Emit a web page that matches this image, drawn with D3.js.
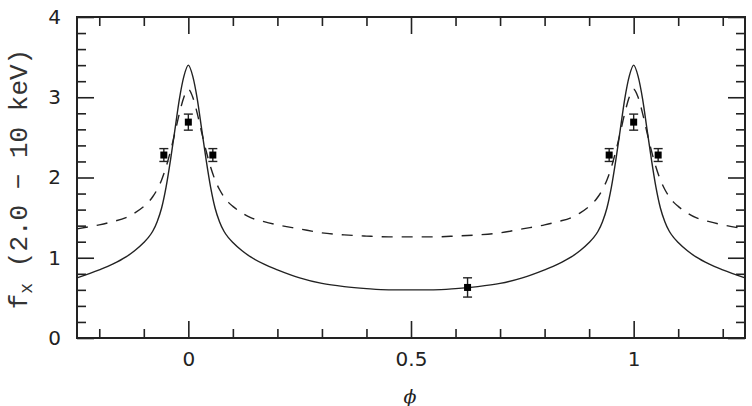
<!DOCTYPE html>
<html>
<head>
<meta charset="utf-8">
<script src="https://cdn.jsdelivr.net/npm/d3@7"></script>
<style>
  html, body { margin: 0; padding: 0; background: #fff; }
  #chart { width: 752px; height: 406px; }
  .tick text { font-family: "DejaVu Sans", sans-serif; font-size: 20px; fill: #222; }
</style>
</head>
<body>
<div id="chart"></div>
<script>
// phase samples for the two model curves
const phase = [-0.25,-0.2,-0.17,-0.14,-0.12,-0.1,-0.09,-0.08,-0.07,-0.06,-0.05,-0.04,-0.03,-0.02,-0.01,
  0,
  0.01,0.02,0.03,0.04,0.05,0.06,0.07,0.08,0.09,0.1,0.12,0.14,0.17,0.2,0.25,0.3,0.35,0.4,0.45,
  0.5,
  0.55,0.6,0.65,0.7,0.75,0.8,0.83,0.86,0.88,0.9,0.91,0.92,0.93,0.94,0.95,0.96,0.97,0.98,0.99,
  1,
  1.01,1.02,1.03,1.04,1.05,1.06,1.07,1.08,1.09,1.1,1.12,1.14,1.17,1.2,1.25];

const solidModel = [0.75,0.85,0.92,1.01,1.09,1.19,1.25,1.33,1.45,1.62,1.88,2.22,2.60,2.98,3.26,
  3.40,
  3.26,2.98,2.60,2.22,1.88,1.62,1.45,1.33,1.25,1.19,1.09,1.01,0.92,0.85,0.75,0.68,0.64,0.615,0.60,
  0.60,
  0.60,0.615,0.64,0.68,0.75,0.85,0.92,1.01,1.09,1.19,1.25,1.33,1.45,1.62,1.88,2.22,2.60,2.98,3.26,
  3.40,
  3.26,2.98,2.60,2.22,1.88,1.62,1.45,1.33,1.25,1.19,1.09,1.01,0.92,0.85,0.75];

const dashedModel = [1.36,1.41,1.45,1.50,1.56,1.64,1.69,1.76,1.85,1.97,2.13,2.33,2.56,2.80,3.00,
  3.10,
  3.00,2.80,2.56,2.33,2.13,1.97,1.85,1.76,1.69,1.64,1.56,1.50,1.45,1.41,1.36,1.31,1.285,1.27,1.26,
  1.26,
  1.26,1.27,1.285,1.31,1.36,1.41,1.45,1.50,1.56,1.64,1.69,1.76,1.85,1.97,2.13,2.33,2.56,2.80,3.00,
  3.10,
  3.00,2.80,2.56,2.33,2.13,1.97,1.85,1.76,1.69,1.64,1.56,1.50,1.45,1.41,1.36];

// measured points
const obsPhase = [-0.055, 0, 0.055, 0.627, 0.945, 1, 1.055];
const obsFlux  = [2.28, 2.69, 2.28, 0.63, 2.28, 2.69, 2.28];
const obsErr   = [0.08, 0.10, 0.08, 0.12, 0.08, 0.10, 0.08];

// ticks
const xMajor = [0, 0.5, 1];
const xMinor = [-0.2,-0.1,0.1,0.2,0.3,0.4,0.6,0.7,0.8,0.9,1.1,1.2];
const yMajor = [0, 1, 2, 3, 4];
const yMinor = [0.2,0.4,0.6,0.8,1.2,1.4,1.6,1.8,2.2,2.4,2.6,2.8,3.2,3.4,3.6,3.8];

function draw(){
  const width = 752, height = 406;
  const margin = {top: 17, right: 7, bottom: 68, left: 77};
  const innerW = width - margin.left - margin.right;
  const innerH = height - margin.top - margin.bottom;

  const svg = d3.select("#chart").append("svg")
    .attr("width", width)
    .attr("height", height);

  const g = svg.append("g")
    .attr("transform", `translate(${margin.left},${margin.top})`);

  const x = d3.scaleLinear().domain([-0.25, 1.25]).range([0, innerW]);
  const y = d3.scaleLinear().domain([0, 4]).range([innerH, 0]);

  const ink = "#222";
  const fmt = d => d3.format("")(d);

  // ticks on all four sides, pointing inward
  const axes = [
    {ax: d3.axisBottom(x).tickValues(xMajor).tickSize(-17).tickPadding(14).tickFormat(fmt), t: `translate(0,${innerH})`},
    {ax: d3.axisBottom(x).tickValues(xMinor).tickSize(-9).tickFormat(""), t: `translate(0,${innerH})`},
    {ax: d3.axisTop(x).tickValues(xMajor).tickSize(-17).tickFormat(""), t: null},
    {ax: d3.axisTop(x).tickValues(xMinor).tickSize(-9).tickFormat(""), t: null},
    {ax: d3.axisLeft(y).tickValues(yMajor).tickSize(-17).tickPadding(16).tickFormat(fmt), t: null},
    {ax: d3.axisLeft(y).tickValues(yMinor).tickSize(-9).tickFormat(""), t: null},
    {ax: d3.axisRight(y).tickValues(yMajor).tickSize(-17).tickFormat(""), t: `translate(${innerW},0)`},
    {ax: d3.axisRight(y).tickValues(yMinor).tickSize(-9).tickFormat(""), t: `translate(${innerW},0)`}
  ];
  axes.forEach(a => {
    const sel = g.append("g").call(a.ax.tickSizeOuter(0));
    if(a.t) sel.attr("transform", a.t);
    sel.select(".domain").remove();
    sel.selectAll("line").attr("stroke", ink).attr("stroke-width", 1.6);
  });

  // frame
  g.append("rect")
    .attr("width", innerW).attr("height", innerH)
    .attr("fill", "none").attr("stroke", ink).attr("stroke-width", 2);

  // model curves
  const line = d3.line()
    .x((d, i) => x(phase[i]))
    .y(d => y(d))
    .curve(d3.curveMonotoneX);

  g.append("path")
    .attr("d", line(solidModel))
    .attr("fill", "none").attr("stroke", ink).attr("stroke-width", 1.4);

  g.append("path")
    .attr("d", line(dashedModel))
    .attr("fill", "none").attr("stroke", ink).attr("stroke-width", 1.4)
    .attr("stroke-dasharray", "11,9");

  // data points with error bars
  const pts = obsPhase.map((p, i) => ({p, f: obsFlux[i], e: obsErr[i]}));
  const pg = g.selectAll("g.pt").data(pts).join("g").attr("class", "pt");
  pg.append("line")
    .attr("x1", d => x(d.p)).attr("x2", d => x(d.p))
    .attr("y1", d => y(d.f - d.e)).attr("y2", d => y(d.f + d.e))
    .attr("stroke", ink).attr("stroke-width", 1.4);
  [1, -1].forEach(s => {
    pg.append("line")
      .attr("x1", d => x(d.p) - 4.5).attr("x2", d => x(d.p) + 4.5)
      .attr("y1", d => y(d.f + s * d.e)).attr("y2", d => y(d.f + s * d.e))
      .attr("stroke", ink).attr("stroke-width", 1.4);
  });
  pg.append("rect")
    .attr("x", d => x(d.p) - 3.5).attr("y", d => y(d.f) - 3.5)
    .attr("width", 7).attr("height", 7)
    .attr("fill", "#000");

  // axis titles
  svg.append("text")
    .attr("x", 410).attr("y", 396)
    .attr("text-anchor", "middle")
    .attr("dominant-baseline", "central")
    .attr("font-family", "DejaVu Serif, serif")
    .attr("font-style", "italic")
    .attr("font-size", 19)
    .attr("fill", ink)
    .text("\u03D5");

  const yl = svg.append("text")
    .attr("transform", "translate(27,179) rotate(-90)")
    .attr("text-anchor", "middle")
    .attr("font-family", "'Liberation Mono', monospace")
    .attr("font-size", 26)
    .attr("fill", "#333");
  yl.append("tspan").text("f");
  yl.append("tspan").attr("dy", 5).attr("font-size", 18).text("x");
  yl.append("tspan").attr("dy", -5).text(" (2.0 \u2212 10 keV)");
}

draw();
</script>
</body>
</html>
